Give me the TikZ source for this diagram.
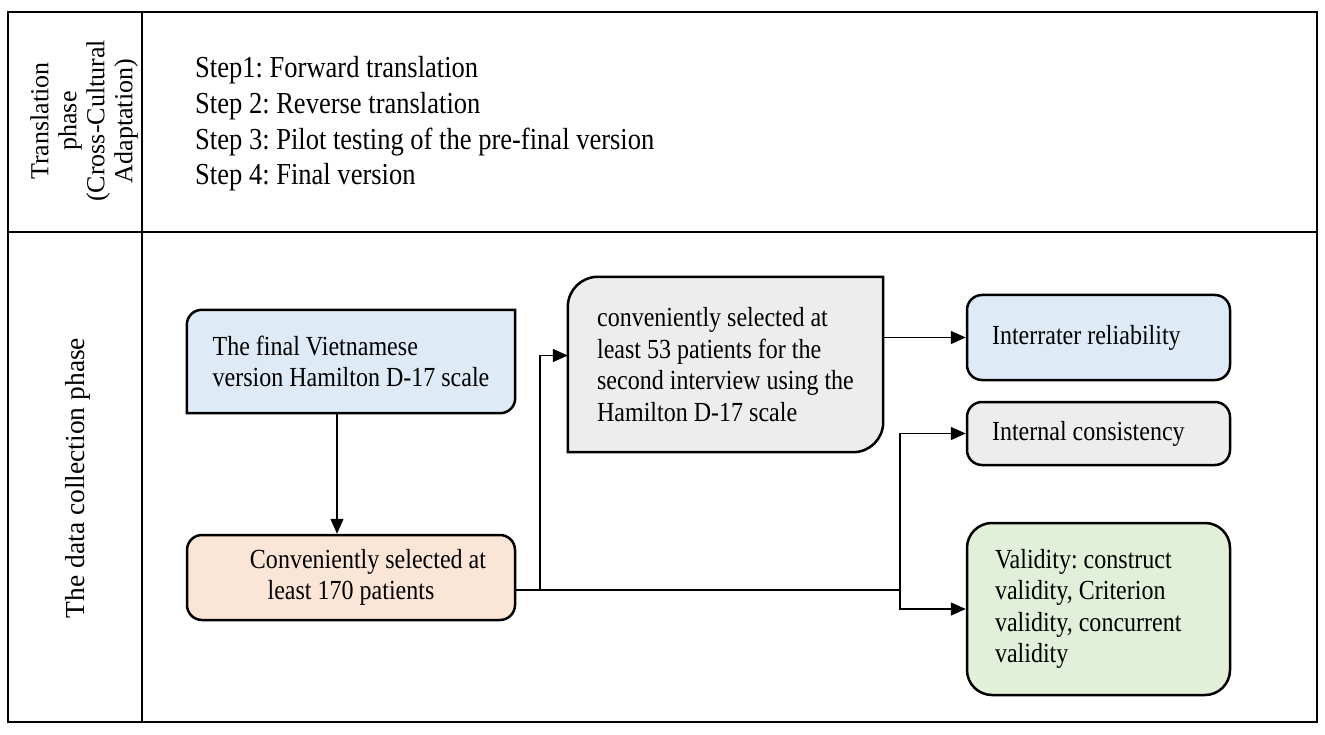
\documentclass[tikz,border=0pt]{standalone}
\usepackage{fontspec}
\setmainfont{Liberation Serif}
\newfontfamily\flowfont{Liberation Serif}[FakeStretch=0.87]
\usetikzlibrary{arrows.meta,backgrounds}

\definecolor{vietblue}{HTML}{DEEBF7}
\definecolor{convpeach}{HTML}{FBE5D6}
\definecolor{secondgray}{HTML}{EDEDED}
\definecolor{validgreen}{HTML}{E2F0D9}

\tikzset{
  boxline/.style={line width=2.5pt},
  flowbox/.style={rectangle, inner sep=0pt, align=left, font=\flowfont\fontsize{27.6}{31.5}\selectfont\frenchspacing},
  roundbox/.style={flowbox, draw, boxline, rounded corners=15pt},
  link/.style={line width=1.4pt},
  linkarrow/.style={link, -{Triangle[length=15pt,width=13pt]}},
}

\begin{document}
\begin{tikzpicture}[x=1pt,y=-1pt]
\useasboundingbox (0,0) rectangle (1325,735);

% table
\draw[line width=2pt] (8,12) rectangle (1317,722);
\draw[line width=2pt] (142,12) -- (142,722);
\draw[line width=2pt] (8,232) -- (1317,232);

% phase labels
\node(transphase) at(84,121) [rotate=90, align=center, font=\fontsize{26}{28}\selectfont]
  {Translation\\phase\\(Cross-Cultural\\Adaptation)};
\node(collphase) at(78,478) [rotate=90, font=\fontsize{27.5}{30}\selectfont]
  {The data collection phase};

\node(steps) at(195,124) [anchor=west, align=left, inner sep=0pt, font=\flowfont\fontsize{30.5}{35.7}\selectfont\frenchspacing]
  {Step1: Forward translation\\
   Step 2: Reverse translation\\
   Step 3: Pilot testing of the pre-final version\\
   Step 4: Final version};

\begin{scope}[every node/.style={flowbox}]
\node(viet) at(351,361.5) [minimum width=328pt, minimum height=103pt]
  {The final Vietnamese\\version Hamilton D-17 scale};
\node(conv) at(351,577.5) [roundbox, fill=convpeach, minimum width=328pt, minimum height=85pt, align=center]
  {\hspace*{34pt}Conveniently selected at\\least 170 patients};
\node(second) at(725.5,364.5) [minimum width=315pt, minimum height=175pt]
  {conveniently selected at\\least 53 patients for the\\second interview using the\\Hamilton D-17 scale};
\node(inter) at(1098.5,337.5) [roundbox, fill=vietblue, minimum width=263pt, minimum height=85pt, inner xsep=25pt, text width=213pt, align=flush left]
  {Interrater reliability};
\node(intern) at(1098.5,433.5) [roundbox, fill=secondgray, minimum width=263pt, minimum height=63pt, inner xsep=25pt, text width=213pt, align=flush left]
  {Internal consistency};
\node(valid) at(1098.5,609) [roundbox, rounded corners=25pt, fill=validgreen, minimum width=263pt, minimum height=172pt, inner xsep=28pt, text width=207pt, align=flush left]
  {Validity: construct\\validity, Criterion\\validity, concurrent\\validity};
\end{scope}

\begin{scope}[on background layer]
\draw[boxline, fill=vietblue]
([yshift=-15pt]viet.north west) arc[start angle=180, end angle=90, radius=15pt] --
(viet.north east) --
([yshift=15pt]viet.south east) arc[start angle=0, end angle=-90, radius=15pt] --
(viet.south west) -- cycle
;
\draw[boxline, fill=secondgray]
([yshift=-30pt]second.north west) arc[start angle=180, end angle=90, radius=30pt] --
(second.north east) --
([yshift=30pt]second.south east) arc[start angle=0, end angle=-90, radius=30pt] --
(second.south west) -- cycle
;
\end{scope}

% connectors
\coordinate(split1) at(540,590);
\coordinate(split2) at(900,590);

\draw[linkarrow] ([xshift=-14pt]viet.south) -- ([xshift=-14pt]conv.north);
\draw[link] (conv.east |- split1) -- (split2);
\draw[linkarrow] (split1) |- ([yshift=9pt]second.west);
\draw[linkarrow] (second.east |- inter.west) -- (inter.west);
\draw[linkarrow] (split2) |- (intern.west);
\draw[linkarrow] (split2) |- (valid.west);

\end{tikzpicture}
\end{document}
